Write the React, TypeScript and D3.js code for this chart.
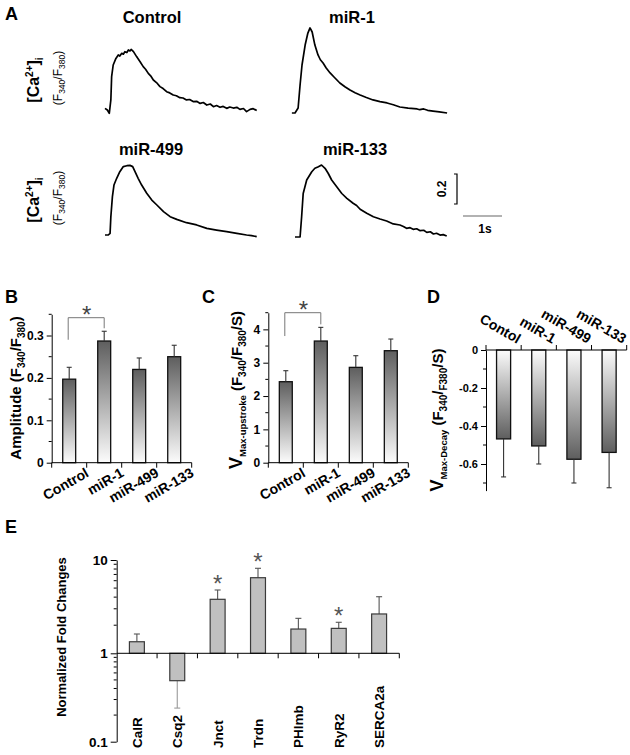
import { useEffect, useRef } from "react";
import * as d3 from "d3";

const FONT = "'Liberation Sans', Arial, Helvetica, sans-serif";

// panel A: calcium transients, [time (s), ratio above baseline]
const traceControl: [number, number][] = [
  [0, 0.011], [0.06, 0], [0.11, -0.022], [0.15, 0.067], [0.17, 0.222], [0.21, 0.3], [0.28, 0.344],
  [0.34, 0.367], [0.38, 0.36], [0.43, 0.378], [0.47, 0.372], [0.51, 0.389], [0.56, 0.383], [0.6, 0.4],
  [0.64, 0.394], [0.67, 0.404], [0.73, 0.389], [0.81, 0.356], [0.9, 0.322], [0.98, 0.289], [1.04, 0.272],
  [1.11, 0.244], [1.17, 0.228], [1.24, 0.2], [1.32, 0.183], [1.41, 0.156], [1.49, 0.143], [1.58, 0.122],
  [1.66, 0.114], [1.75, 0.1], [1.83, 0.095], [1.92, 0.082], [2.0, 0.08], [2.09, 0.067], [2.17, 0.07],
  [2.26, 0.056], [2.35, 0.058], [2.44, 0.044], [2.52, 0.05], [2.61, 0.033], [2.7, 0.04], [2.78, 0.022],
  [2.86, 0.03], [2.95, 0.018], [3.03, 0.024], [3.12, 0.011], [3.2, 0.02], [3.29, 0.013], [3.38, 0.018],
  [3.46, 0.004], [3.55, 0.01], [3.63, -0.011], [3.72, 0.004], [3.8, 0.009], [3.89, -0.004],
];
const traceMiR1: [number, number][] = [
  [-0.08, 0], [0, 0], [0.08, 0.033], [0.13, 0.187], [0.18, 0.32], [0.26, 0.453], [0.33, 0.533],
  [0.385, 0.567], [0.44, 0.54], [0.51, 0.453], [0.59, 0.387], [0.65, 0.355], [0.72, 0.333], [0.8, 0.3],
  [0.9, 0.267], [1.0, 0.24], [1.15, 0.2], [1.28, 0.175], [1.41, 0.153], [1.54, 0.135], [1.67, 0.12],
  [1.83, 0.103], [2.0, 0.087], [2.18, 0.076], [2.36, 0.067], [2.52, 0.055], [2.69, 0.04], [2.9, 0.033],
  [3.13, 0.027], [3.2, 0.022], [3.3, 0.027], [3.4, 0.018], [3.54, 0.013], [3.7, 0.008], [3.9, 0],
];
const traceMiR499: [number, number][] = [
  [0, 0], [0.085, 0], [0.13, 0.011], [0.15, 0.122], [0.19, 0.256], [0.23, 0.333], [0.3, 0.378],
  [0.38, 0.422], [0.47, 0.456], [0.56, 0.462], [0.64, 0.464], [0.71, 0.456], [0.77, 0.422], [0.85, 0.378],
  [0.94, 0.333], [1.07, 0.278], [1.2, 0.233], [1.33, 0.2], [1.5, 0.156], [1.67, 0.122], [1.84, 0.104],
  [2.09, 0.082], [2.35, 0.067], [2.61, 0.044], [2.86, 0.033], [3.12, 0.022], [3.38, 0.011], [3.63, 0],
  [3.76, -0.004], [3.89, -0.011],
];
const traceMiR133: [number, number][] = [
  [0, 0], [0.13, 0], [0.17, 0.135], [0.21, 0.29], [0.3, 0.38], [0.43, 0.435], [0.51, 0.458], [0.6, 0.469],
  [0.68, 0.48], [0.77, 0.458], [0.85, 0.425], [0.94, 0.38], [1.07, 0.335], [1.2, 0.29], [1.33, 0.258],
  [1.49, 0.225], [1.58, 0.21], [1.67, 0.185], [1.84, 0.158], [2.01, 0.135], [2.18, 0.12], [2.35, 0.107],
  [2.52, 0.087], [2.69, 0.08], [2.78, 0.07], [2.86, 0.058], [2.95, 0.062], [3.03, 0.051], [3.12, 0.055],
  [3.21, 0.042], [3.3, 0.045], [3.38, 0.031], [3.47, 0.035], [3.55, 0.02], [3.63, 0.025], [3.72, 0.013],
  [3.8, 0.016], [3.89, 0.007],
];

// panels B, C, D
const groups = ["Control", "miR-1", "miR-499", "miR-133"];
const decayGroups = ["Contol", "miR-1", "miR-499", "miR-133"];
const amplitude = [0.197, 0.287, 0.22, 0.25];
const amplitudeErr = [0.028, 0.023, 0.027, 0.027];
const upstroke = [2.43, 3.65, 2.86, 3.36];
const upstrokeErr = [0.33, 0.41, 0.35, 0.35];
const decay = [-0.468, -0.505, -0.575, -0.539];
const decayErr = [0.2, 0.095, 0.125, 0.186];

// panel E
const genes = ["CalR", "Csq2", "Jnct", "Trdn", "PHlmb", "RyR2", "SERCA2a"];
const foldChange = [1.33, 0.49, 3.79, 6.46, 1.82, 1.85, 2.64];
const foldErr = [0.28, 0.25, 0.98, 1.69, 0.55, 0.3, 1.4];
const foldSig = [false, false, true, true, false, true, false];

type Part = { t: string; s: number; off?: number };

function rich(g: any, x: number, y: number, rot: number, anchor: string, weight: string, parts: Part[]) {
  const txt = g
    .append("text")
    .attr("transform", `translate(${x},${y}) rotate(${rot})`)
    .attr("text-anchor", anchor)
    .attr("font-family", FONT)
    .attr("font-weight", weight)
    .attr("fill", "#000");
  let prev = 0;
  parts.forEach((p) => {
    const off = p.off ?? 0;
    txt.append("tspan").attr("font-size", p.s).attr("dy", off - prev).text(p.t);
    prev = off;
  });
}

function barPanel(svg: any, o: any) {
  const g = svg.append("g");
  const x = d3.scaleBand().domain(o.labels).range(o.xRange).paddingInner(o.pad).paddingOuter(o.pad / 2);
  const y = d3.scaleLinear().domain(o.domain).range(o.yRange);
  const base = y(0);
  const step = x.step();

  // bars
  g.selectAll("rect")
    .data(o.values)
    .join("rect")
    .attr("x", (d: number, i: number) => x(o.labels[i]))
    .attr("width", x.bandwidth())
    .attr("y", (d: number) => Math.min(y(d), base))
    .attr("height", (d: number) => Math.abs(y(d) - base))
    .attr("fill", `url(#${o.grad})`)
    .attr("stroke", "#111")
    .attr("stroke-width", 1.3);

  // error bars (one-sided)
  o.values.forEach((v: number, i: number) => {
    const cx = x(o.labels[i])! + x.bandwidth() / 2;
    const end = v >= 0 ? v + o.errs[i] : v - o.errs[i];
    g.append("line").attr("x1", cx).attr("x2", cx).attr("y1", y(v)).attr("y2", y(end))
      .attr("stroke", "#333").attr("stroke-width", 1.1);
    g.append("line").attr("x1", cx - 2.5).attr("x2", cx + 2.5).attr("y1", y(end)).attr("y2", y(end))
      .attr("stroke", "#333").attr("stroke-width", 1.1);
  });

  // y axis
  const ax = g
    .append("g")
    .attr("transform", `translate(${o.xRange[0]},0)`)
    .call(d3.axisLeft(y).tickValues(o.ticks).tickFormat(o.fmt).tickSize(5).tickSizeOuter(0).tickPadding(3));
  ax.selectAll("text")
    .attr("font-family", FONT)
    .attr("font-weight", "bold")
    .attr("font-size", o.tickFont);
  g.selectAll("line.minor")
    .data(o.minor)
    .join("line")
    .attr("class", "minor")
    .attr("x1", o.xRange[0] - 3)
    .attr("x2", o.xRange[0])
    .attr("y1", (d: number) => y(d))
    .attr("y2", (d: number) => y(d))
    .attr("stroke", "#000");

  // x axis with boundary ticks
  g.append("line").attr("x1", o.xRange[0]).attr("x2", o.xRange[1]).attr("y1", base).attr("y2", base).attr("stroke", "#000");
  d3.range(o.labels.length + 1).forEach((i) => {
    const bx = o.xRange[0] + i * step;
    g.append("line").attr("x1", bx).attr("x2", bx)
      .attr("y1", base).attr("y2", o.above ? base - 5 : base + 5).attr("stroke", "#000");
  });

  o.labels.forEach((lab: string, i: number) => {
    const bx = o.xRange[0] + (i + 1) * step;
    g.append("text")
      .attr("transform", o.above
        ? `translate(${bx - 4},${base - 6}) rotate(30)`
        : `translate(${bx + 3},${base + 13}) rotate(-30)`)
      .attr("text-anchor", "end")
      .attr("font-family", FONT)
      .attr("font-weight", "bold")
      .attr("font-size", 14)
      .text(lab);
  });

  // significance bracket between first two groups
  if (o.bracket) {
    const c0 = x(o.labels[0])! + x.bandwidth() / 2;
    const c1 = x(o.labels[1])! + x.bandwidth() / 2;
    const [top, l, r] = o.bracket.map((v: number) => y(v));
    g.append("path")
      .attr("d", `M${c0 - 1},${l}V${top}H${c1}V${r}`)
      .attr("fill", "none").attr("stroke", "#777").attr("stroke-width", 1);
    g.append("text").attr("x", (c0 + c1) / 2).attr("y", top + 5)
      .attr("text-anchor", "middle").attr("font-family", FONT).attr("font-size", 24).attr("fill", "#444").text("*");
  }
}

export default function App() {
  const ref = useRef<SVGSVGElement>(null);

  useEffect(() => {
    const svg = d3.select(ref.current);
    svg.selectAll("*").remove();

    const defs = svg.append("defs");
    const gu = defs.append("linearGradient").attr("id", "gradUp").attr("x1", 0).attr("y1", 0).attr("x2", 0).attr("y2", 1);
    gu.append("stop").attr("offset", "0%").attr("stop-color", "#5e5e5e");
    gu.append("stop").attr("offset", "100%").attr("stop-color", "#fcfcfc");
    const gd = defs.append("linearGradient").attr("id", "gradDown").attr("x1", 0).attr("y1", 0).attr("x2", 0).attr("y2", 1);
    gd.append("stop").attr("offset", "0%").attr("stop-color", "#fcfcfc");
    gd.append("stop").attr("offset", "100%").attr("stop-color", "#5e5e5e");

    // panel letters
    [["A", 5, 20], ["B", 5, 303], ["C", 202, 303], ["D", 427, 303], ["E", 5, 533]].forEach(([t, x, y]) => {
      svg.append("text").attr("x", x).attr("y", y).attr("font-family", FONT).attr("font-weight", "bold")
        .attr("font-size", 18).text(t as string);
    });

    // ---- A: transients
    const tScale = d3.scaleLinear().domain([0, 1]).range([0, 39]);
    const vScale = d3.scaleLinear().domain([0, 0.2]).range([0, -30]);
    const traces = [
      { title: "Control", data: traceControl, x0: 105, y0: 110, tx: 152, ty: 23 },
      { title: "miR-1", data: traceMiR1, x0: 295, y0: 113, tx: 352, ty: 23 },
      { title: "miR-499", data: traceMiR499, x0: 105, y0: 235, tx: 151, ty: 155 },
      { title: "miR-133", data: traceMiR133, x0: 295, y0: 237, tx: 355, ty: 155 },
    ];
    traces.forEach((tr) => {
      const line = d3
        .line<[number, number]>()
        .x((d) => tr.x0 + tScale(d[0]))
        .y((d) => tr.y0 + vScale(d[1]));
      svg.append("path").attr("d", line(tr.data)).attr("fill", "none").attr("stroke", "#000")
        .attr("stroke-width", 1.7).attr("stroke-linejoin", "round");
      svg.append("text").attr("x", tr.tx).attr("y", tr.ty).attr("text-anchor", "middle")
        .attr("font-family", FONT).attr("font-weight", "bold").attr("font-size", 16.5).text(tr.title);
    });
    [80, 200].forEach((cy) => {
      rich(svg, 39, cy, -90, "middle", "bold", [
        { t: "[Ca", s: 16 }, { t: "2+", s: 10, off: -6 }, { t: "]", s: 16 }, { t: "i", s: 10, off: 4 },
      ]);
      rich(svg, 62, cy - 2, -90, "middle", "normal", [
        { t: "(F", s: 12 }, { t: "340", s: 8.5, off: 3 }, { t: "/F", s: 12 }, { t: "380", s: 8.5, off: 3 }, { t: ")", s: 12 },
      ]);
    });
    // scale bars
    const sbx = 457, sby = 204;
    svg.append("path")
      .attr("d", `M${sbx - 3},${sby + vScale(0.2)}H${sbx}V${sby}H${sbx - 3}`)
      .attr("fill", "none").attr("stroke", "#000").attr("stroke-width", 1.2);
    rich(svg, 446, 189, -90, "middle", "bold", [{ t: "0.2", s: 12 }]);
    svg.append("line").attr("x1", 463).attr("x2", 463 + tScale(1)).attr("y1", 216).attr("y2", 216)
      .attr("stroke", "#999").attr("stroke-width", 1.5);
    svg.append("text").attr("x", 485).attr("y", 233).attr("text-anchor", "middle")
      .attr("font-family", FONT).attr("font-weight", "bold").attr("font-size", 12).text("1s");

    // ---- B
    barPanel(svg, {
      labels: groups, values: amplitude, errs: amplitudeErr, xRange: [51.7, 191.7], pad: 0.63,
      domain: [0, 0.35], yRange: [462.7, 314.3], ticks: [0, 0.1, 0.2, 0.3], minor: [0.05, 0.15, 0.25, 0.35],
      fmt: (d: number) => (d === 0 ? "0" : d.toFixed(1)), tickFont: 12, grad: "gradUp",
      bracket: [0.342, 0.29, 0.317],
    });
    rich(svg, 21, 388, -90, "middle", "bold", [
      { t: "Amplitude (F", s: 15 }, { t: "340", s: 10, off: 4 }, { t: "/F", s: 15 }, { t: "380", s: 10, off: 4 }, { t: ")", s: 15 },
    ]);

    // ---- C
    barPanel(svg, {
      labels: groups, values: upstroke, errs: upstrokeErr, xRange: [268.3, 408.3], pad: 0.63,
      domain: [0, 4.5], yRange: [462.7, 312.7], ticks: [0, 1, 2, 3, 4], minor: [0.5, 1.5, 2.5, 3.5, 4.5],
      fmt: (d: number) => String(d), tickFont: 12, grad: "gradUp",
      bracket: [4.5, 3.8, 4.15],
    });
    rich(svg, 242, 390, -90, "middle", "bold", [
      { t: "V", s: 18 }, { t: "Max-upstroke", s: 9.5, off: 4 }, { t: " (F", s: 15 }, { t: "340", s: 10, off: 4 },
      { t: "/F", s: 15 }, { t: "380", s: 10, off: 4 }, { t: "/S)", s: 15 },
    ]);

    // ---- D
    barPanel(svg, {
      labels: decayGroups, values: decay, errs: decayErr, xRange: [486, 626.7], pad: 0.6,
      domain: [-0.74, 0], yRange: [490.6, 350], ticks: [0, -0.2, -0.4, -0.6], minor: [-0.1, -0.3, -0.5, -0.7],
      fmt: (d: number) => (d === 0 ? "0" : d.toFixed(1)), tickFont: 11, grad: "gradDown", above: true,
    });
    rich(svg, 443, 420, -90, "middle", "bold", [
      { t: "V", s: 18 }, { t: "Max-Decay", s: 9.5, off: 4 }, { t: " (F", s: 15 }, { t: "340", s: 10, off: 4 },
      { t: "/", s: 15 }, { t: "F380", s: 10, off: 4 }, { t: "/S)", s: 15 },
    ]);

    // ---- E: log fold changes
    const gE = svg.append("g");
    const xE = d3.scaleBand().domain(genes).range([116.7, 399.3]).paddingInner(0.63).paddingOuter(0.315);
    const yE = d3.scaleLog().domain([0.1, 1, 10]).range([741.7, 653.3, 560]);
    const one = yE(1);
    genes.forEach((gn, i) => {
      const v = foldChange[i];
      const cx = xE(gn)! + xE.bandwidth() / 2;
      const end = v >= 1 ? v + foldErr[i] : v - foldErr[i];
      const ec = v >= 1 ? "#555" : "#999";
      gE.append("line").attr("x1", cx).attr("x2", cx).attr("y1", yE(v)).attr("y2", yE(end)).attr("stroke", ec).attr("stroke-width", 1.1);
      gE.append("line").attr("x1", cx - 3).attr("x2", cx + 3).attr("y1", yE(end)).attr("y2", yE(end)).attr("stroke", ec).attr("stroke-width", 1.1);
      gE.append("rect").attr("x", xE(gn)!).attr("width", xE.bandwidth())
        .attr("y", Math.min(yE(v), one)).attr("height", Math.abs(yE(v) - one))
        .attr("fill", "#c0c0c0").attr("stroke", "#3a3a3a").attr("stroke-width", 1.2);
      if (foldSig[i]) {
        gE.append("text").attr("x", cx).attr("y", yE(end) + 2).attr("text-anchor", "middle")
          .attr("font-family", FONT).attr("font-size", 24).attr("fill", "#555").text("*");
      }
      gE.append("text").attr("transform", `translate(${cx + 5},748) rotate(-90)`)
        .attr("font-family", FONT).attr("font-weight", "bold").attr("font-size", 13.5).text(gn);
    });
    const axE = gE.append("g").attr("transform", "translate(116.7,0)")
      .call(d3.axisLeft(yE).tickValues([0.1, 1, 10]).tickFormat((d: any) => String(d)).tickSize(6).tickSizeOuter(0).tickPadding(3));
    axE.selectAll("text").attr("font-family", FONT).attr("font-weight", "bold").attr("font-size", 13.5);
    const minorE = [0.2, 0.3, 0.4, 0.5, 0.6, 0.7, 0.8, 0.9, 2, 3, 4, 5, 6, 7, 8, 9];
    gE.selectAll("line.minor").data(minorE).join("line").attr("class", "minor")
      .attr("x1", 113.7).attr("x2", 116.7).attr("y1", (d) => yE(d)).attr("y2", (d) => yE(d)).attr("stroke", "#000");
    gE.append("line").attr("x1", 116.7).attr("x2", 399.3).attr("y1", one).attr("y2", one).attr("stroke", "#000");
    d3.range(1, genes.length + 1).forEach((i) => {
      const bx = 116.7 + i * xE.step();
      gE.append("line").attr("x1", bx).attr("x2", bx).attr("y1", one).attr("y2", one + 5).attr("stroke", "#000");
    });
    rich(svg, 66, 637, -90, "middle", "bold", [{ t: "Normalized Fold Changes", s: 13 }]);
  }, []);

  return (
    <svg
      ref={ref}
      width={630}
      height={755}
      style={{ position: "absolute", left: 0, top: 0, background: "#fff" }}
    />
  );
}
